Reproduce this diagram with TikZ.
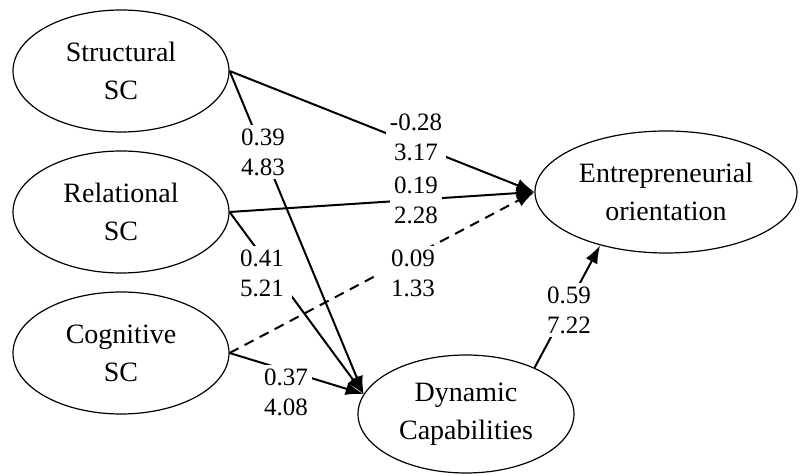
\documentclass[tikz,border=0pt]{standalone}
\usepackage{fontspec}
\setmainfont{Liberation Serif}
\usetikzlibrary{shapes.geometric}
\usetikzlibrary{arrows.meta}

\begin{document}
\begin{tikzpicture}[x=0.5pt, y=-0.5pt,
  every node/.style = {align=center},
  construct/.style = {draw, ellipse, line width=0.6pt, inner sep=0pt,
    minimum width=108pt, minimum height=61pt, font=\fontsize{14}{19}\selectfont},
  coef/.style = {fill=white, inner sep=2pt, font=\fontsize{12.5}{15}\selectfont},
  effect/.style = {draw, line width=1pt, -{Latex[length=9pt,width=6.5pt]}}]
  \useasboundingbox (0,0) rectangle (800,475);
  \node[construct] (ssc) at (121,71) {Structural\\SC};
  \node[construct] (rsc) at (121,212) {Relational\\SC};
  \node[construct] (csc) at (121,353) {Cognitive\\SC};
  \node[construct, minimum width=131pt] (eo) at (666,192) {Entrepreneurial\\orientation};
  \node[construct, minimum height=59pt] (dc) at (466,414) {Dynamic\\Capabilities};
  \path[effect] (ssc.east) -- (eo.west);
  \path[effect] (ssc.east) -- (dc.169);
  \path[effect] (rsc.east) -- (eo.west);
  \path[effect] (rsc.east) -- (dc.169);
  \path[effect, dash pattern=on 5pt off 3.5pt] (csc.east) -- (eo.west);
  \path[effect] (csc.east) -- (dc.169);
  \path[effect] (dc.34) -- (eo.219);
  \node[coef] (ssc-eo) at (416,137) {-0.28\\3.17};
  \node[coef] (ssc-dc) at (263,152) {0.39\\4.83};
  \node[coef] (rsc-eo) at (416,200) {0.19\\2.28};
  \node[coef, inner xsep=4pt] (rsc-dc) at (262,273) {0.41\\5.21};
  \node[coef, inner xsep=8pt] (csc-eo) at (413,273) {0.09\\1.33};
  \node[coef] (csc-dc) at (286,392) {0.37\\4.08};
  \node[coef] (dc-eo) at (569,310) {0.59\\7.22};
\end{tikzpicture}
\end{document}
